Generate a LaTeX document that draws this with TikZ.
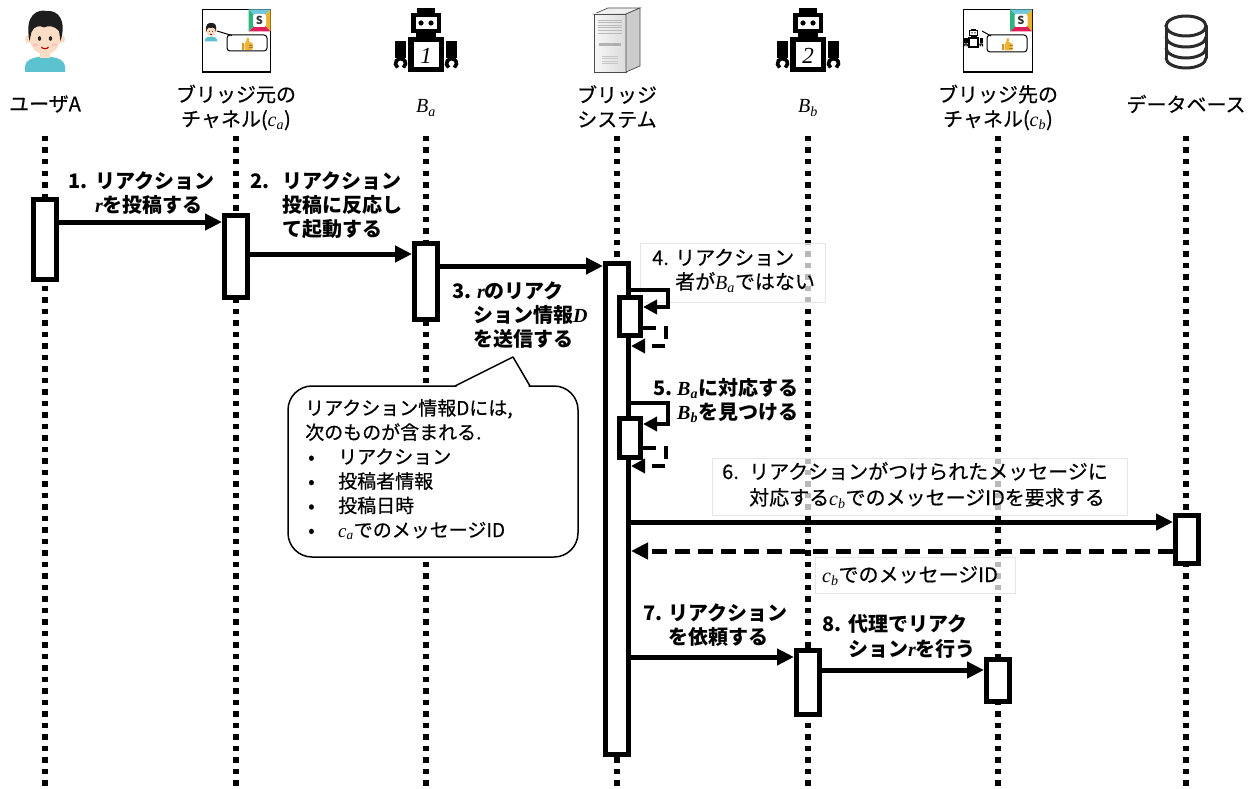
\documentclass[tikz,border=0pt]{standalone}
\usepackage{fontspec}
\setmainfont{Noto Sans CJK JP}
\newfontfamily\jpm{Noto Sans CJK JP}[FakeBold=0.5]
\newfontfamily\tms{Liberation Serif}
\usetikzlibrary{arrows.meta}

\definecolor{skin}{HTML}{FBDCC4}
\definecolor{hair}{HTML}{1E1E1E}
\definecolor{shirt}{HTML}{5BC3CF}
\definecolor{thumb}{HTML}{F2B233}
\definecolor{slTeal}{HTML}{6FC9DA}
\definecolor{slYellow}{HTML}{ECB22E}
\definecolor{slRed}{HTML}{E01E5A}
\definecolor{slGreen}{HTML}{2EB67D}
\definecolor{dbline}{HTML}{2B2B2B}

% italic variables, optionally with a subscript
\newcommand\vi[1]{{\tms\itshape #1}}
\newcommand\vs[2]{{\tms\itshape #1\textsubscript{#2}}}
\newcommand\numlbl[2]{\makebox[#1][l]{#2}}
\newcommand\blt{\makebox[33pt][l]{\hspace{3pt}•}}

% boy avatar: shift x, shift y, scale
\newcommand\avatar[3]{%
\begin{scope}[shift={(#1,#2)},scale=#3]
  \fill[shirt] (25,72) -- (25,66) .. controls (26,60) and (32,58) .. (38,57) -- (52,57)
     .. controls (58,58) and (64,60) .. (65,66) -- (65,72) -- cycle;
  \fill[skin] (40,50) rectangle (50,58);
  \fill[skin] (29,39) circle (4.2);
  \fill[skin] (61,39) circle (4.2);
  \fill[skin] (45,37) ellipse (15.5 and 17.5);
  \fill[hair] (29.5,41) .. controls (24,14) and (38,9) .. (47,11)
     .. controls (58,10) and (67,20) .. (60.5,41) -- (59,31)
     .. controls (55,26) and (48,25) .. (44,27.5)
     .. controls (40,25) and (34,26) .. (31.5,32) -- cycle;
  \fill[black!85] (39.5,38.5) ellipse (1.7 and 2.3);
  \fill[black!85] (50.5,38.5) ellipse (1.7 and 2.3);
  \fill[red!25] (35.5,45) ellipse (2.8 and 1.4);
  \fill[red!25] (54.5,45) ellipse (2.8 and 1.4);
  \draw[red!70!black, line width={#3*1.1pt}] (41.5,47) .. controls (43,49.3) and (47,49.3) .. (48.5,47);
\end{scope}}

% robot: shift x, shift y, scale, number shown on the body
\newcommand\robot[4]{%
\begin{scope}[shift={(#1,#2)},scale=#3]
  \fill (-9,8.5) rectangle (9,14);
  \fill (-15,13) rectangle (15,33);
  \fill[white] (-10.5,17.5) rectangle (10.5,29);
  \fill (-5,23) circle (2.6);
  \fill (5,23) circle (2.6);
  \fill (-10,32) rectangle (10,38);
  \fill (-18,37) rectangle (18,72);
  \fill[white] (-12.5,42) rectangle (12.5,67.5);
  \fill (-31,41) rectangle (-20,58);
  \fill (20,41) rectangle (31,58);
  \draw[line width={#3*3.6pt}] (-25.5,63.5) ++(125:5) arc[start angle=125,end angle=415,radius=5];
  \draw[line width={#3*3.6pt}] (25.5,63.5) ++(125:5) arc[start angle=125,end angle=415,radius=5];
  \node[inner sep=0pt, font=\tms\itshape\fontsize{23}{23}\selectfont] at (0,55.5) {#4};
\end{scope}}

% four-colour chat-service badge, top-left corner given
\newcommand\slack[2]{%
\begin{scope}[shift={(#1,#2)}]
  \fill[slTeal] (0,0) -- (22,0) -- (11,11) -- cycle;
  \fill[slYellow] (22,0) -- (22,22) -- (11,11) -- cycle;
  \fill[slRed] (22,22) -- (0,22) -- (11,11) -- cycle;
  \fill[slGreen] (0,22) -- (0,0) -- (11,11) -- cycle;
  \fill[white, rounded corners=2pt] (4.5,4.5) rectangle (17.5,17.5);
  \node[inner sep=0pt, text=black!80, font=\bfseries\fontsize{11}{11}\selectfont] at (11,11.3) {S};
\end{scope}}

% small yellow thumbs-up, centre given
\newcommand\thumbsup[2]{%
\begin{scope}[shift={(#1,#2)}]
  \fill[thumb!85!black] (-5.5,-0.5) rectangle (-3,6);
  \fill[thumb, rounded corners=1.2pt] (-2.5,-0.5) -- (-0.8,-2) -- (0,-7) -- (2,-6.5) -- (2,-1.5)
     -- (5.5,-1.5) -- (5.5,6) -- (-2.5,6) -- cycle;
  \draw[thumb!70!black, line width=0.4pt] (2,1) -- (5.5,1) (2,3.5) -- (5.5,3.5);
\end{scope}}

\begin{document}
\begin{tikzpicture}[x=1pt,y=-1pt,
  hdr/.style={align=center, inner sep=0pt, font=\jpm\fontsize{20}{24.5}\selectfont},
  life/.style={line width=5.5pt, dash pattern=on 5.5pt off 6pt},
  act/.style={draw, line width=5pt, fill=white, minimum width=23pt, inner sep=0pt},
  msg/.style={line width=5pt, -{Triangle[length=17pt,width=16pt]}},
  ret/.style={msg, dash pattern=on 15pt off 8pt},
  selfcall/.style={line width=4.5pt, line join=miter, -{Triangle[length=14pt,width=14pt]}},
  selfret/.style={selfcall, dash pattern=on 13pt off 8pt},
  lbl/.style={anchor=base west, align=left, inner sep=0pt, font=\jpm\fontsize{20}{24}\selectfont},
  lblb/.style={lbl, font=\bfseries\fontsize{20}{24}\selectfont},
  lblbox/.style={fill=white, fill opacity=0.72, draw=black!10, line width=0.6pt},
  frame/.style={draw, line width=1.3pt},
  bubble/.style={draw, line width=1pt, rounded corners=3pt},
]
\useasboundingbox (0,0) rectangle (1253,789);
\fill[white] (0,0) rectangle (1253,789);

% ---------- participant icons ----------
\avatar{0}{0}{1}

\draw[frame] (202.5,9.5) rectangle (270.5,72);
\slack{248.5}{9.5}
\avatar{197.5}{19.7}{0.3}
\draw[line width=1pt] (217,31) -- (232,35.5);
\draw[bubble] (227,35) rectangle (267,51);
\thumbsup{247}{44}

\robot{426}{0}{1}{1}

% server tower
\fill[gray!12, draw=gray!60!black, line width=0.7pt] (594,14) -- (608,8) -- (640,8) -- (626,14) -- cycle;
\shade[left color=gray!6, right color=gray!28, draw=gray!60!black, line width=0.7pt] (594,14) rectangle (626,72);
\fill[gray!40, draw=gray!60!black, line width=0.7pt] (626,14) -- (640,8) -- (640,66) -- (626,72) -- cycle;
\foreach \k in {0,...,5} \draw[gray!55, line width=0.6pt] (598,{20+2.6*\k}) -- (622,{20+2.6*\k});
\fill[gray!60] (599,43) rectangle (621,46);
\fill[gray!70] (613,44) rectangle (619,45);
\foreach \k in {0,...,3} \draw[gray!45, line width=0.5pt] (602,{56+2.5*\k}) -- (618,{56+2.5*\k});

\robot{808}{0}{1}{2}

\draw[frame] (963.5,9.5) rectangle (1032.5,72);
\slack{1010}{9.5}
\robot{973.5}{26}{0.3}{}
\draw[line width=1pt] (982,31) -- (991,36);
\draw[bubble] (987,35) rectangle (1027,52);
\thumbsup{1007}{44.5}

% database cylinder
\begin{scope}[dbline, line width=3pt, line cap=round]
  \draw (1186,26) ellipse (20 and 10);
  \draw (1166,26) -- (1166,58);
  \draw (1206,26) -- (1206,58);
  \foreach \yy in {37,48,58} \draw (1166,\yy) arc[start angle=180, end angle=0, x radius=20, y radius=10];
\end{scope}

% ---------- participant names ----------
\node[hdr] (hU)  at (45,104)    {ユーザA};
\node[hdr] (hCa) at (236,107.5) {ブリッジ元の\\チャネル(\vs{c}{a})};
\node[hdr] (hBa) at (426,108)   {\vs{B}{a}};
\node[hdr] (hS)  at (617,106.5) {ブリッジ\\システム};
\node[hdr] (hBb) at (808,108)   {\vs{B}{b}};
\node[hdr] (hCb) at (998,107.5) {ブリッジ先の\\チャネル(\vs{c}{b})};
\node[hdr] (hDB) at (1186,104)  {データベース};

% ---------- lifelines ----------
\coordinate (top) at (0,136);
\coordinate (bot) at (0,789);
\foreach \n in {hU,hCa,hBa,hS,hBb,hCb,hDB}
  \draw[life] (\n |- top) -- (\n |- bot);

% ---------- note on the reaction data ----------
\draw[fill=white, line width=1.5pt, rounded corners=24pt] (288,386) rectangle (578,557);
\fill[white] (456.5,384.5) -- (513,358) -- (528.5,384.5) -- (528.5,387.6) -- (456.5,387.6) -- cycle;
\draw[line width=1.5pt, line join=round] (455,386) -- (513,357) -- (530,386);
% (base anchor of a multi-line node sits on its last line)
\node[anchor=base west, align=left, inner sep=0pt, font=\jpm\fontsize{19}{24.4}\selectfont] (info) at (305,537)
  {リアクション情報Dには,\\次のものが含まれる.\\\blt リアクション\\\blt 投稿者情報\\\blt 投稿日時\\\blt \vs{c}{a}でのメッセージID};

% ---------- label backgrounds ----------
\path[lblbox] (640,243) rectangle (825,302);
\path[lblbox] (712,458) rectangle (1127,515);
\path[lblbox] (815,557) rectangle (1015,593);

% ---------- activations ----------
\node[act, minimum height=80pt]  (u1)  at (45,239.5) {};
\node[act, minimum height=82pt]  (c1)  at (236,256.5) {};
\node[act, minimum height=76pt]  (b1)  at (426,281.5) {};
\node[act, minimum height=491pt] (s1)  at (617,509) {};
\node[act, minimum width=21pt, minimum height=38pt] (s2) at (630,316.5) {};
\node[act, minimum width=21pt, minimum height=39pt] (s3) at (630,438) {};
\node[act, minimum height=48pt]  (d1)  at (1187,539.5) {};
\node[act, minimum height=64pt]  (bb1) at (808,682.5) {};
\node[act, minimum height=42pt]  (cb1) at (998,680.5) {};

% ---------- messages ----------
\draw[msg] (u1.east |- 0,222) -- (c1.west |- 0,222);
\draw[msg] (c1.east |- 0,254) -- (b1.west |- 0,254);
\draw[msg] (b1.east |- 0,266) -- (s1.west |- 0,266);
\draw[selfcall] (s1.east |- 0,290) -- ++(37,0) |- (s2.east |- 0,307);
\draw[selfret]  (s2.east |- 0,328) -- ++(23,0) |- (s1.east |- 0,346);
\draw[selfcall] (s1.east |- 0,403) -- ++(37,0) |- (s3.east |- 0,424);
\draw[selfret]  (s3.east |- 0,448) -- ++(23,0) |- (s1.east |- 0,466);
\draw[msg] (s1.east |- 0,522) -- (d1.west |- 0,522);
\draw[ret] (d1.west |- 0,551) -- (s1.east |- 0,551);
\draw[msg] (s1.east |- 0,657) -- (bb1.west |- 0,657);
\draw[msg] (bb1.east |- 0,670) -- (cb1.west |- 0,670);

% ---------- message labels (anchored at the last line's baseline) ----------
\node[lblb] (t1) at (68,212)  {\numlbl{27pt}{1.}リアクション\\\hspace*{27pt}\vi{r}を投稿する};
\node[lblb] (t2) at (250,236) {\numlbl{32pt}{2.}リアクション\\\hspace*{32pt}投稿に反応し\\\hspace*{32pt}て起動する};
\node[lblb] (t3) at (452,346) {\numlbl{25pt}{3.}\vi{r}のリアク\\\hspace*{21pt}ション情報\vi{D}\\\hspace*{21pt}を送信する};
\node[lbl]  (t4) at (652,289) {\numlbl{23pt}{4.}リアクション\\\hspace*{23pt}者が\vs{B}{a}ではない};
\node[lblb] (t5) at (653,419) {\numlbl{24pt}{5.}\vs{B}{a}に対応する\\\hspace*{24pt}\vs{B}{b}を見つける};
\node[lbl, font=\jpm\fontsize{20}{26}\selectfont] (t6) at (722,505)
  {\numlbl{27pt}{6.}リアクションがつけられたメッセージに\\\hspace*{27pt}対応する\vs{c}{b}でのメッセージIDを要求する};
\node[lbl]  (t6r) at (822,582) {\vs{c}{b}でのメッセージID};
\node[lblb] (t7) at (643,644) {\numlbl{25pt}{7.}リアクション\\\hspace*{25pt}を依頼する};
\node[lblb, font=\bfseries\fontsize{20}{25}\selectfont] (t8) at (822,656) {\numlbl{26pt}{8.}代理でリアク\\\hspace*{26pt}ション\vi{r}を行う};
\end{tikzpicture}
\end{document}
